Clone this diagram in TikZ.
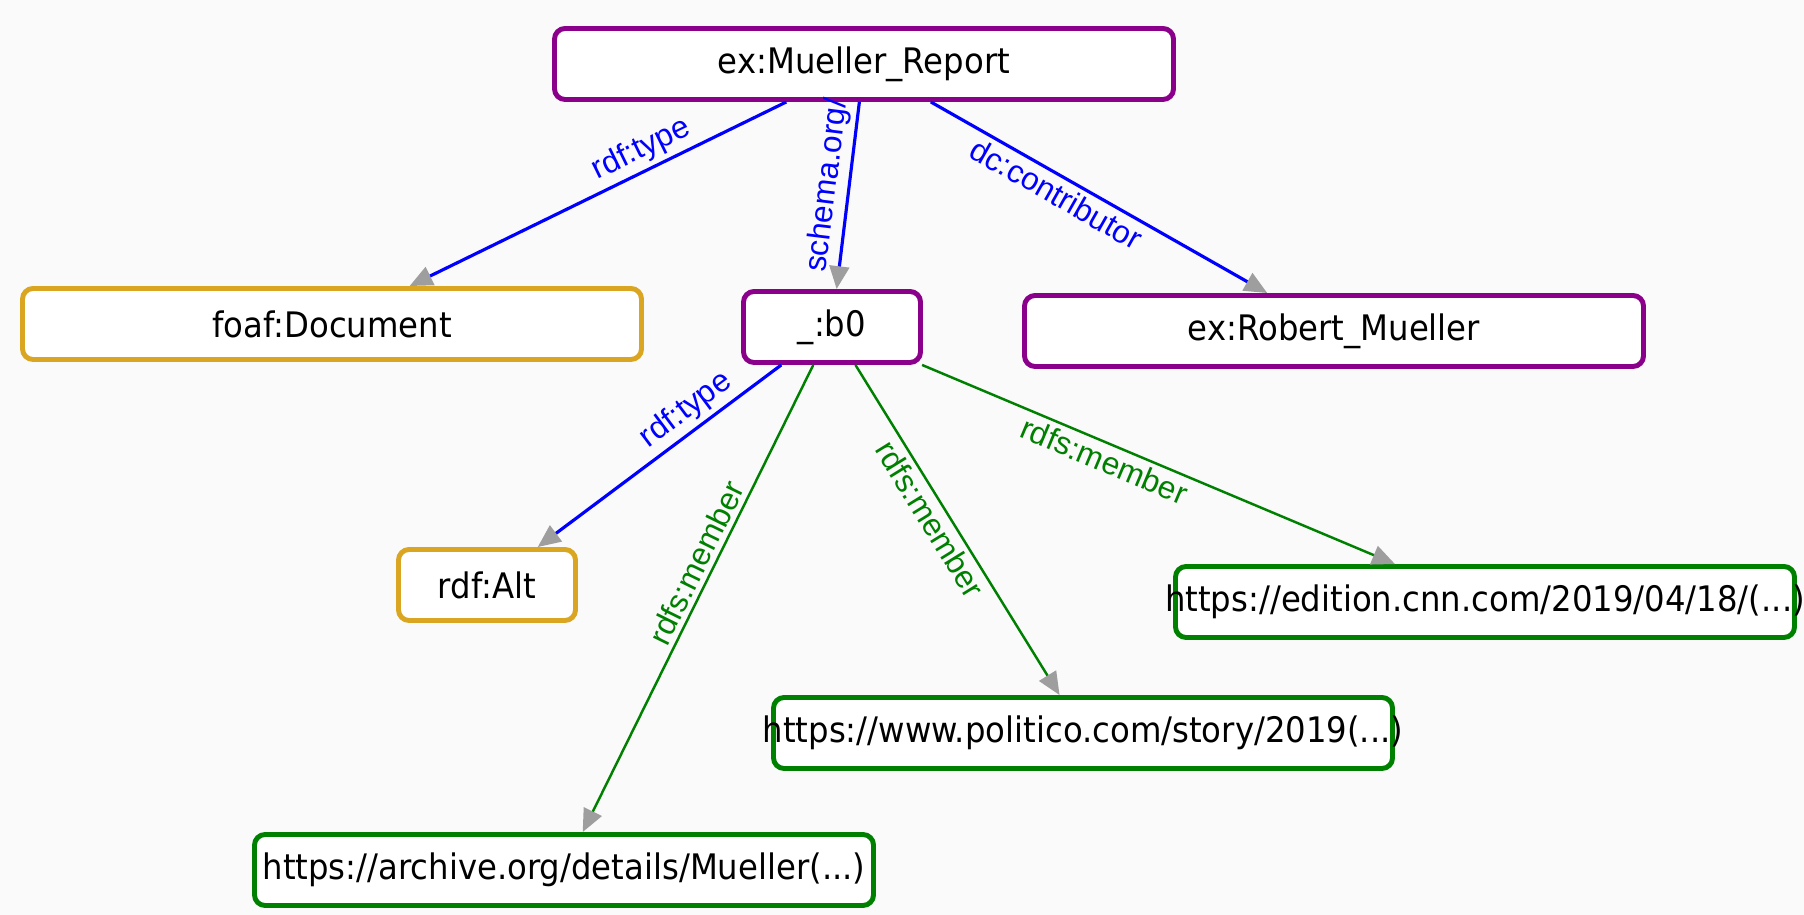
\documentclass[tikz,border=0pt]{standalone}
\usepackage{fontspec}
\setmainfont{DejaVu Sans}
\newfontfamily\boxfont[FakeStretch=0.92]{DejaVu Sans}
\newfontfamily\edgefont{Liberation Sans}
\usepackage{tikz}
\usepackage{xcolor}
\usetikzlibrary{arrows.meta, positioning}

\definecolor{respurple}{RGB}{139,0,139}
\definecolor{clsgold}{RGB}{218,165,32}
\definecolor{lnkgreen}{RGB}{0,128,0}
\definecolor{tipgray}{RGB}{158,158,158}
\definecolor{canvas}{RGB}{250,250,250}

% long IRIs are allowed to run over the box edge
\newcommand{\overhang}[1]{\makebox[0pt]{#1}}

\tikzstyle{box}=[draw, fill=white, line width=1.4pt, rounded corners=3pt, inner sep=0pt, minimum height=7.1mm, font=\boxfont\fontsize{10}{12}\selectfont]
\tikzstyle{res}=[box, draw=respurple]
\tikzstyle{cls}=[box, draw=clsgold]
\tikzstyle{lnk}=[box, draw=lnkgreen]
\tikzstyle{wide}=[minimum width=61.9mm]
\tikzstyle{narrow}=[minimum width=17.7mm]
\tikzstyle{prop}=[draw=blue, line width=0.9pt, -{Triangle[length=6.5pt,width=5.6pt,color=tipgray]}]
\tikzstyle{member}=[prop, draw=lnkgreen, line width=0.7pt]
\tikzstyle{lbl}=[sloped, pos=0.4, inner sep=1.3pt, font=\edgefont\fontsize{9}{10}\selectfont]

\begin{document}
\begin{tikzpicture}
    \fill[canvas] (0,0) rectangle (18.04,9.15);
    \useasboundingbox (0,0) rectangle (18.04,9.15);

    \node[res, wide] (rep) at (8.64,8.51) {ex:Mueller\_Report};
    \node[cls, wide] (foaf) at (3.32,5.91) {foaf:Document};
    \node[res, narrow] (b0) at (8.32,5.88) {\_:b0};
    \node[res, wide] (robert) at (13.34,5.84) {ex:Robert\_Mueller};
    \node[cls, narrow] (alt) at (4.87,3.30) {rdf:Alt};
    \node[lnk, wide] (cnn) at (14.85,3.13) {\overhang{https://edition.cnn.com/2019/04/18/(...)}};
    \node[lnk, wide] (politico) at (10.83,1.82) {\overhang{https://www.politico.com/story/2019(...)}};
    \node[lnk, wide] (archive) at (5.64,0.45) {\overhang{https://archive.org/details/Mueller(...)}};

    \draw[prop] (rep) -- node[lbl, pos=0.36, above, text=blue] {rdf:type} (foaf);
    \draw[prop] (rep) -- node[lbl, pos=0.46, above, text=blue] {schema.org/} (b0);
    \draw[prop] (rep) -- node[lbl, below, text=blue] {dc:contributor} (robert);

    \draw[prop] (b0) -- node[lbl, pos=0.34, above, text=blue] {rdf:type} (alt);
    \draw[member] (b0) -- node[lbl, pos=0.44, above, text=lnkgreen] {rdfs:member} (archive);
    \draw[member] (b0) -- node[lbl, pos=0.44, below, text=lnkgreen] {rdfs:member} (politico);
    \draw[member] (b0) -- node[lbl, below, text=lnkgreen] {rdfs:member} (cnn);
\end{tikzpicture}
\end{document}
